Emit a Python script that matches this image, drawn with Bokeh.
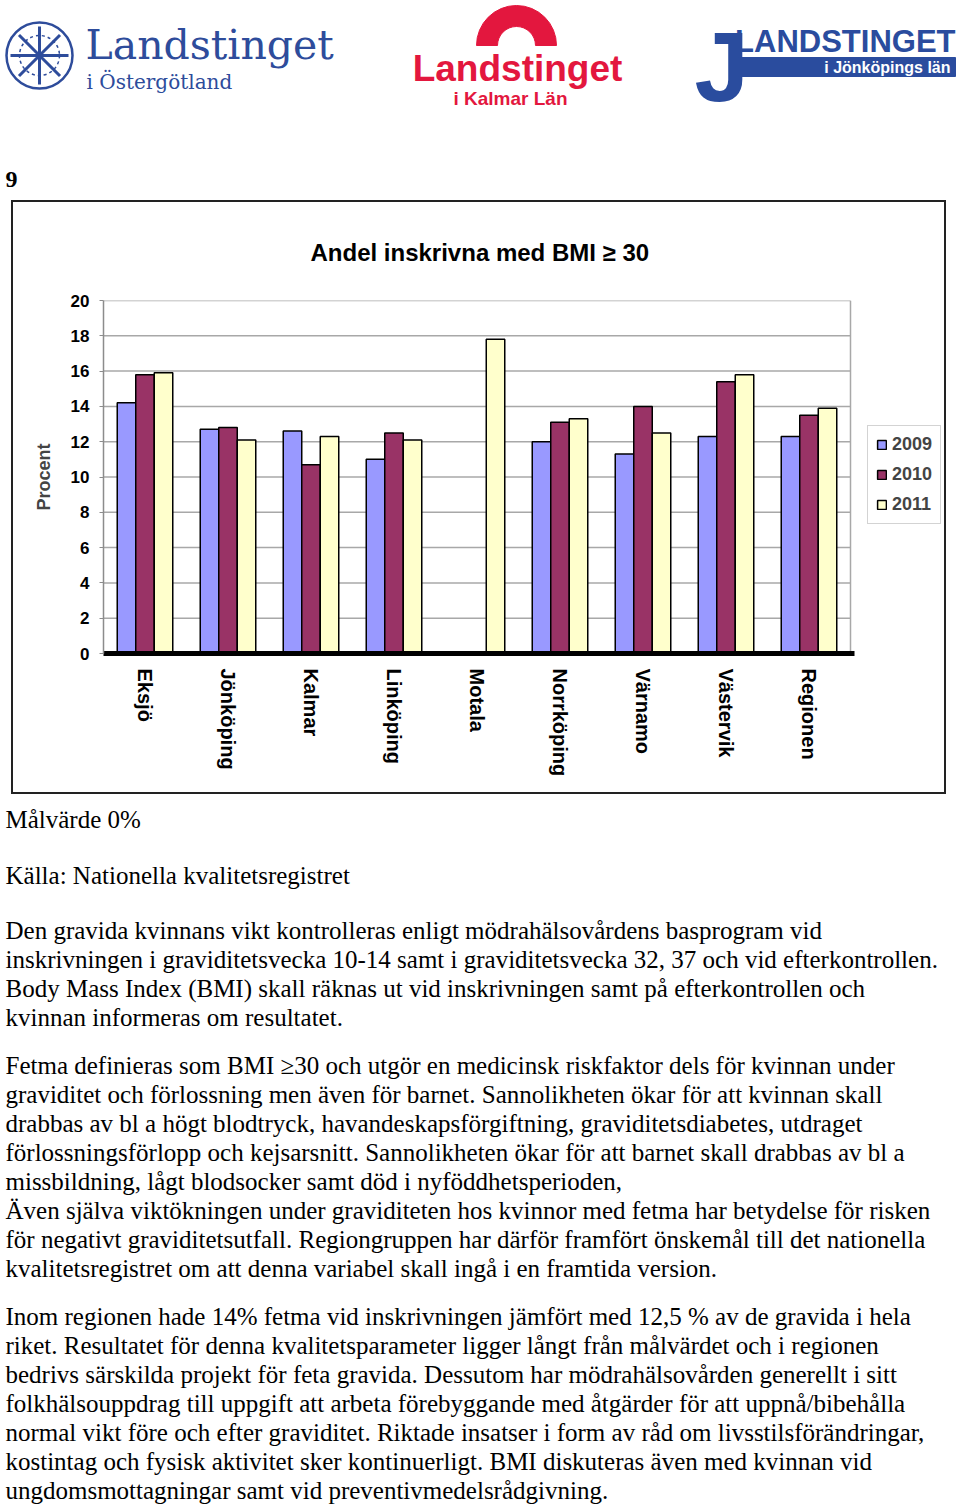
import math
import numpy as np
from bokeh.plotting import figure
from bokeh.models import (ColumnDataSource, Range1d, Legend, LegendItem, FixedTicker)
from bokeh.embed import file_html
from bokeh.resources import INLINE
from bokeh.core.properties import value

# ---------------- data ----------------
categories = ["Eksjö", "Jönköping", "Kalmar", "Linköping", "Motala",
              "Norrköping", "Värnamo", "Västervik", "Regionen"]
years = ["2009", "2010", "2011"]
values_2009 = [14.2, 12.7, 12.6, 11.0, np.nan, 12.0, 11.3, 12.3, 12.3]
values_2010 = [15.8, 12.8, 10.7, 12.5, np.nan, 13.1, 14.0, 15.4, 13.5]
values_2011 = [15.9, 12.1, 12.3, 12.1, 17.8, 13.3, 12.5, 15.8, 13.9]
y_ticks = [0, 2, 4, 6, 8, 10, 12, 14, 16, 18, 20]

chart_title = "Andel inskrivna med BMI ≥ 30"
y_label = "Procent"
page_number = "9"

malvarde_lines = ["Målvärde 0%"]
kalla_lines = ["Källa: Nationella kvalitetsregistret"]
para1_lines = [
    "Den gravida kvinnans vikt kontrolleras enligt mödrahälsovårdens basprogram vid",
    "inskrivningen i graviditetsvecka 10-14 samt i graviditetsvecka 32, 37 och vid efterkontrollen.",
    "Body Mass Index (BMI) skall räknas ut vid inskrivningen samt på efterkontrollen och",
    "kvinnan informeras om resultatet.",
]
para2_lines = [
    "Fetma definieras som BMI ≥30 och utgör en medicinsk riskfaktor dels för kvinnan under",
    "graviditet och förlossning men även för barnet. Sannolikheten ökar för att kvinnan skall",
    "drabbas av bl a högt blodtryck, havandeskapsförgiftning, graviditetsdiabetes, utdraget",
    "förlossningsförlopp och kejsarsnitt. Sannolikheten ökar för att barnet skall drabbas av bl a",
    "missbildning, lågt blodsocker samt död i nyföddhetsperioden,",
    "Även själva viktökningen under graviditeten hos kvinnor med fetma har betydelse för risken",
    "för negativt graviditetsutfall. Regiongruppen har därför framfört önskemål till det nationella",
    "kvalitetsregistret om att denna variabel skall ingå i en framtida version.",
]
para3_lines = [
    "Inom regionen hade 14% fetma vid inskrivningen jämfört med 12,5 % av de gravida i hela",
    "riket. Resultatet för denna kvalitetsparameter ligger långt från målvärdet och i regionen",
    "bedrivs särskilda projekt för feta gravida. Dessutom har mödrahälsovården generellt  i sitt",
    "folkhälsouppdrag till uppgift att arbeta förebyggande med  åtgärder för att uppnå/bibehålla",
    "normal vikt före och efter graviditet. Riktade insatser i form av råd om livsstilsförändringar,",
    "kostintag och fysisk aktivitet sker kontinuerligt. BMI diskuteras även med kvinnan vid",
    "ungdomsmottagningar samt vid preventivmedelsrådgivning.",
]

colors = ["#9999FF", "#993366", "#FFFFCC"]
SANS = "Liberation Sans"
SERIF = "Liberation Serif"

# ---------------- header (logos) ----------------
HW, HH = 960, 200
header = figure(width=HW, height=HH, x_range=Range1d(0, HW), y_range=Range1d(0, HH),
                output_backend="svg", toolbar_location=None, min_border=0,
                x_axis_type=None, y_axis_type=None)
header.outline_line_color = None
header.grid.visible = False


def hy(py):
    return HH - py


oster_blue = "#2E4C9B"
kalmar_red = "#E3173E"
jkp_blue = "#2A4C9E"


def htext(x, y, t, font, size, color, style="normal", align="left"):
    header.text(x=[x], y=[hy(y)], text=[t], text_font=value(font), text_font_style=style,
                text_font_size=value(size), text_color=color, text_align=align,
                text_baseline="middle")


# Östergötland emblem (stylised snowflake)
header.scatter(x=[39], y=[hy(55)], marker="circle", size=66, fill_color=None,
               line_color=oster_blue, line_width=2.5)
header.scatter(x=[39], y=[hy(55)], marker="asterisk", size=58,
               line_color=oster_blue, line_width=3)
header.scatter(x=[39], y=[hy(55)], marker="circle", size=40, fill_color=None,
               line_color=oster_blue, line_width=1.5, line_dash="3 3")
htext(85, 44, "Landstinget", "DejaVu Serif", "41px", oster_blue)
htext(86, 81, "i Östergötland", "DejaVu Serif", "20px", oster_blue)

# Kalmar logo
header.annular_wedge(x=[516], y=[hy(45)], inner_radius=19, outer_radius=40,
                     start_angle=0, end_angle=math.pi, color=kalmar_red)
htext(517, 68, "Landstinget", SANS, "37px", kalmar_red, "bold", "center")
htext(510, 98, "i Kalmar Län", SANS, "19px", kalmar_red, "bold", "center")

# Jönköping logo
htext(694, 66, "J", SANS, "98px", jkp_blue, "bold")
header.quad(left=[738], right=[955], bottom=[hy(76)], top=[hy(57)], color=jkp_blue)
htext(955, 41, "LANDSTINGET", SANS, "31px", jkp_blue, "bold", "right")
htext(950, 67, "i Jönköpings län", SANS, "16px", "white", "bold", "right")

# page number
htext(5, 179, page_number, SERIF, "24px", "black", "bold")

# ---------------- chart ----------------
CW, CH = 935, 594
n_cat = len(categories)
cat_px = 747 / n_cat            # width of one category slot on screen
extra_slots = 96 / cat_px       # room right of the plot area for the legend
chart = figure(width=CW, height=CH, x_range=Range1d(0, n_cat + extra_slots),
               y_range=Range1d(0, 20),
               output_backend="svg", toolbar_location=None,
               min_border_left=92, min_border_right=0, min_border_top=100, min_border_bottom=141,
               border_fill_color=None, background_fill_color=None,
               margin=(0, 0, 0, 11),
               styles={"outline": "2px solid #222222", "outline-offset": "-2px"})
chart.grid.visible = False
chart.outline_line_color = None

centers = np.arange(n_cat) + 0.5
grid_color = "#a8a8a8"
# plot-area grid lines and right border (limited to the category area)
chart.segment(x0=0, x1=n_cat, y0=y_ticks[1:], y1=y_ticks[1:], line_color=grid_color,
              line_width=1.5)
chart.segment(x0=[n_cat], x1=[n_cat], y0=[0], y1=[20], line_color=grid_color, line_width=1.5)

bar_w = 0.223
offsets = [-bar_w, 0.0, bar_w]
src = ColumnDataSource(dict(x2009=centers + offsets[0], x2010=centers + offsets[1],
                            x2011=centers + offsets[2],
                            y2009=np.array(values_2009, dtype=float),
                            y2010=np.array(values_2010, dtype=float),
                            y2011=np.array(values_2011, dtype=float)))
renderers = []
for yr, col in zip(years, colors):
    r = chart.vbar(x="x" + yr, top="y" + yr, width=bar_w, source=src,
                   fill_color=col, line_color="black", line_width=1.5)
    renderers.append(r)

ya = chart.yaxis[0]
ya.ticker = FixedTicker(ticks=y_ticks)
ya.axis_label = y_label
ya.axis_label_text_font = SANS
ya.axis_label_text_font_style = "bold"
ya.axis_label_text_font_size = "18px"
ya.axis_label_standoff = 14
ya.major_label_text_font = SANS
ya.major_label_text_font_style = "bold"
ya.major_label_text_font_size = "17px"
ya.major_label_text_color = "black"
ya.major_label_standoff = 10
ya.major_tick_out = 4
ya.major_tick_in = 0
ya.minor_tick_line_color = None
ya.major_tick_line_color = "#8c8c8c"
ya.axis_line_color = "#8c8c8c"
ya.axis_line_width = 1.5

xa = chart.xaxis[0]
xa.ticker = FixedTicker(ticks=list(centers))
xa.major_label_overrides = {float(c): name for c, name in zip(centers, categories)}
xa.bounds = (0, n_cat + 0.05)
xa.axis_line_color = "black"
xa.axis_line_width = 5
xa.major_tick_line_color = None
xa.major_tick_out = 0
xa.major_tick_in = 0
xa.minor_tick_line_color = None
xa.major_label_orientation = -math.pi / 2
xa.major_label_standoff = 15
xa.major_label_text_font = SANS
xa.major_label_text_font_style = "bold"
xa.major_label_text_font_size = "20px"
xa.major_label_text_color = "black"

chart.title.text = chart_title
chart.title.align = "left"
chart.title.offset = 207
chart.title.text_font = SANS
chart.title.text_font_style = "bold"
chart.title.text_font_size = "24px"
chart.title.text_color = "black"
try:
    chart.title.standoff = 70
except Exception:
    pass

legend = Legend(items=[LegendItem(label=yr, renderers=[r]) for yr, r in zip(years, renderers)],
                location=(764, 129), margin=0, padding=8, spacing=9,
                glyph_width=11, glyph_height=11, label_standoff=5, label_height=20,
                label_text_font=SANS, label_text_font_style="bold", label_text_font_size="18px",
                border_line_color=grid_color, border_line_width=1.5,
                background_fill_color="white")
chart.add_layout(legend)

# ---------------- text below ----------------
TW, TH = 960, 713
body = figure(width=TW, height=TH, x_range=Range1d(0, TW), y_range=Range1d(0, TH),
              output_backend="svg", toolbar_location=None, min_border=0,
              x_axis_type=None, y_axis_type=None)
body.outline_line_color = None
body.grid.visible = False


def ty(py):
    return 1507 - py


line_step = 29
blocks = [(malvarde_lines, 819), (kalla_lines, 875), (para1_lines, 930),
          (para2_lines, 1065), (para3_lines, 1316)]
xs, ys, texts = [], [], []
for lines, first_center in blocks:
    for i, t in enumerate(lines):
        xs.append(5)
        ys.append(ty(first_center + i * line_step))
        texts.append(t)
body.text(x=xs, y=ys, text=texts, text_font=value(SERIF), text_font_size=value("25px"),
          text_color="black", text_baseline="middle", text_align="left")

page = (header, chart, body)
open("out.html", "w").write(file_html(page, INLINE))
